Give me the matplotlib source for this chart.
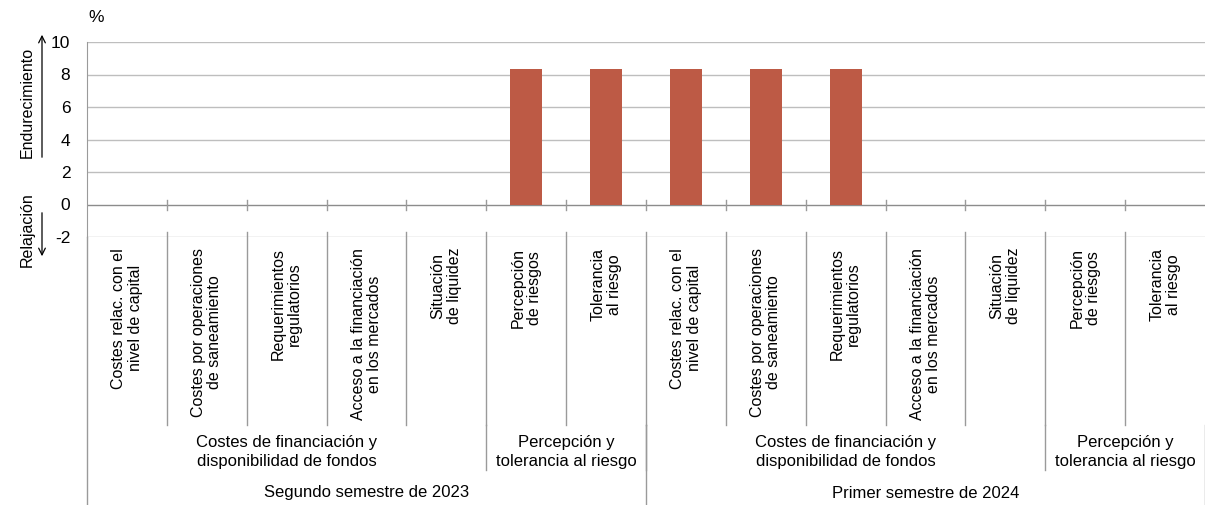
import matplotlib
matplotlib.use("Agg")
import matplotlib.pyplot as plt
import matplotlib.transforms as mtransforms

plt.rcParams['font.family'] = ['Liberation Sans', 'DejaVu Sans']

# data
categories = [
    "Costes relac. con el\nnivel de capital",
    "Costes por operaciones\nde saneamiento",
    "Requerimientos\nregulatorios",
    "Acceso a la financiación\nen los mercados",
    "Situación\nde liquidez",
    "Percepción\nde riesgos",
    "Tolerancia\nal riesgo",
] * 2
values = [0, 0, 0, 0, 0, 8.33, 8.33, 8.33, 8.33, 8.33, 0, 0, 0, 0]
groups = ["Costes de financiación y\ndisponibilidad de fondos", "Percepción y\ntolerancia al riesgo"] * 2
group_spans = [(0, 4), (5, 6), (7, 11), (12, 13)]
semesters = ["Segundo semestre de 2023", "Primer semestre de 2024"]
semester_spans = [(0, 6), (7, 13)]
yticks = [-2, 0, 2, 4, 6, 8, 10]

W, H = 1205, 505
fig = plt.figure(figsize=(W / 100, H / 100), dpi=100)
ax = fig.add_axes([87 / W, 1 - 237 / H, 1 - 87 / W, (237 - 42) / H])

x = list(range(len(values)))
ax.bar(x, values, width=0.4, color='#BD5A45', zorder=3)
ax.set_xlim(-0.5, len(values) - 0.5)
ax.set_ylim(-2, 10)
ax.set_yticks(yticks)
ax.set_yticklabels([str(t) for t in yticks], fontsize=12.5)
ax.tick_params(axis='y', length=0, pad=12)
ax.set_xticks([])
for s in ['top', 'right', 'bottom']:
    ax.spines[s].set_visible(False)
ax.spines['left'].set_color('#9A9A9A')
for t in yticks:
    ax.axhline(t, color='#BEBEBE' if t != 0 else '#8C8C8C', lw=1, zorder=1)


def fy(px):
    return 1 - px / H


trans = mtransforms.blended_transform_factory(ax.transData, fig.transFigure)
lc = '#9A9A9A'

# left axis extension to bottom
fig.add_artist(plt.Line2D([87 / W, 87 / W], [fy(237), 0], transform=fig.transFigure, color=lc, lw=1))

# ticks on zero line and category separators
for b in range(1, len(values)):
    xb = b - 0.5
    ax.plot([xb, xb], [fy(200), fy(210)], transform=trans, color=lc, lw=1, clip_on=False)
    ax.plot([xb, xb], [fy(232), fy(425)], transform=trans, color=lc, lw=1, clip_on=False)

# category labels
for i, c in enumerate(categories):
    ax.text(i, fy(248), c, transform=trans, rotation=90, ha='center', va='top',
            multialignment='center', fontsize=11.5, linespacing=1.1)

# group separators and labels
for (a, b), g in zip(group_spans, groups):
    xb = b + 0.5
    if xb < len(values) - 0.5:
        ax.plot([xb, xb], [fy(425), fy(470)], transform=trans, color=lc, lw=1, clip_on=False)
    ax.text((a + b) / 2, fy(452), g, transform=trans, ha='center', va='center',
            fontsize=12, linespacing=1.35)

# semester separators and labels
for (a, b), s in zip(semester_spans, semesters):
    xb = b + 0.5
    ax.plot([xb, xb], [fy(425), 0], transform=trans, color=lc, lw=1, clip_on=False)
    ax.text((a + b) / 2, fy(493), s, transform=trans, ha='center', va='center', fontsize=12)

# unit and direction annotations
fig.text(96 / W, fy(18), "%", ha='center', va='center', fontsize=12.5)
fig.text(27 / W, fy(102), "Endurecimiento", rotation=90, ha='center', va='center', fontsize=11.5)
fig.text(27 / W, fy(230), "Relajación", rotation=90, ha='center', va='center', fontsize=11.5)
fig.add_artist(matplotlib.patches.FancyArrowPatch((42 / W, fy(160)), (42 / W, fy(32)),
               transform=fig.transFigure, arrowstyle='->', mutation_scale=12, color='black', lw=0.9))
fig.add_artist(matplotlib.patches.FancyArrowPatch((42 / W, fy(210)), (42 / W, fy(259)),
               transform=fig.transFigure, arrowstyle='->', mutation_scale=12, color='black', lw=0.9))

fig.savefig("out.png", dpi=100)
